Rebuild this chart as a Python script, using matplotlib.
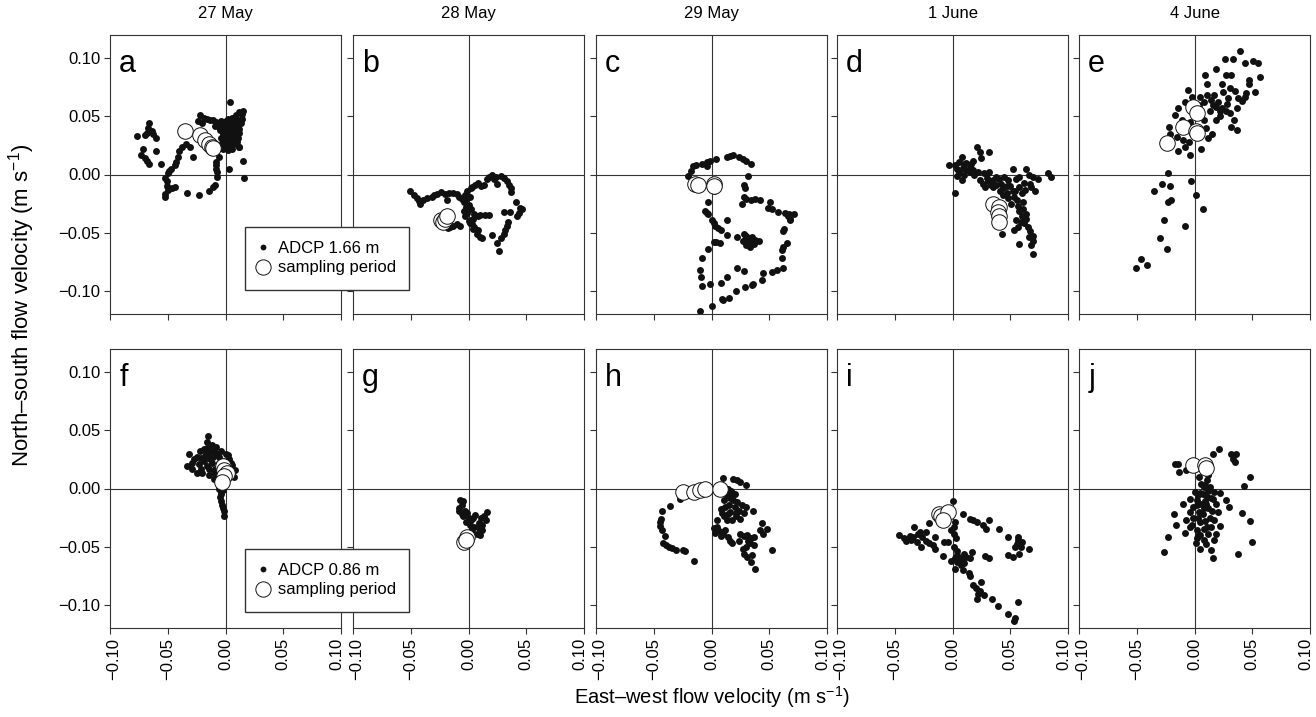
import numpy as np
import matplotlib.pyplot as plt
from matplotlib.lines import Line2D
from matplotlib.ticker import FuncFormatter
from matplotlib.transforms import ScaledTranslation

plt.rcParams['font.family'] = ['Liberation Sans', 'DejaVu Sans']
plt.rcParams['mathtext.fontset'] = 'custom'
plt.rcParams['mathtext.rm'] = 'Liberation Sans'

days = ['27 May', '28 May', '29 May', '1 June', '4 June']
letters = ['a', 'b', 'c', 'd', 'e', 'f', 'g', 'h', 'i', 'j']
depth_labels = ['ADCP 1.66 m', 'ADCP 0.86 m']

# (east-west, north-south) velocities in m/s, upper ADCP bin
adcp_a = [(0.004, 0.062), (0.015, 0.055), (0.012, 0.054), (0.014, 0.052), (0.009, 0.051), (0.006, 0.049),
          (0.002, 0.048), (0.000, 0.046), (0.004, 0.045), (0.008, 0.046), (0.011, 0.047), (0.013, 0.044),
          (0.010, 0.042), (0.006, 0.041), (0.002, 0.042), (-0.001, 0.043), (-0.003, 0.040), (0.000, 0.038),
          (0.004, 0.037), (0.008, 0.038), (0.012, 0.039), (0.010, 0.035), (0.006, 0.033), (0.002, 0.034),
          (-0.002, 0.035), (-0.004, 0.031), (0.000, 0.030), (0.004, 0.029), (0.008, 0.030), (0.011, 0.031),
          (0.009, 0.026), (0.005, 0.025), (0.001, 0.026), (-0.003, 0.027), (-0.002, 0.022), (0.002, 0.021),
          (0.006, 0.022), (0.012, 0.024),
          (0.003, 0.044), (0.007, 0.043), (0.005, 0.039), (0.009, 0.040), (0.001, 0.036), (0.007, 0.035),
          (0.003, 0.031), (0.009, 0.033), (-0.001, 0.032), (0.005, 0.027), (0.007, 0.028), (-0.001, 0.024),
          (0.004, 0.023), (0.010, 0.028), (-0.005, 0.038), (-0.006, 0.041), (-0.009, 0.042), (0.012, 0.036),
          (0.014, 0.048), (0.002, 0.039),
          (-0.022, 0.051), (-0.019, 0.049), (-0.016, 0.048), (-0.013, 0.047), (-0.011, 0.047), (-0.008, 0.045),
          (-0.006, 0.044), (-0.004, 0.046), (-0.024, 0.046), (-0.020, 0.044),
          (-0.066, 0.044), (-0.067, 0.040), (-0.064, 0.037), (-0.077, 0.033), (-0.070, 0.034), (-0.063, 0.035),
          (-0.060, 0.031), (-0.068, 0.036), (-0.071, 0.022), (-0.073, 0.017), (-0.068, 0.012), (-0.066, 0.009),
          (-0.060, 0.020), (-0.056, 0.009), (-0.070, 0.014),
          (-0.038, 0.024), (-0.034, 0.026), (-0.031, 0.024), (-0.040, 0.020), (-0.041, 0.015), (-0.028, 0.015),
          (-0.043, 0.011), (-0.044, 0.008), (-0.047, 0.005), (-0.049, 0.003), (-0.050, 0.001), (-0.052, -0.003),
          (-0.051, -0.006), (-0.051, -0.010), (-0.050, -0.013), (-0.052, -0.017), (-0.052, -0.019),
          (-0.046, -0.012), (-0.044, -0.011), (-0.033, -0.016), (-0.023, -0.018), (-0.014, -0.014),
          (-0.011, -0.011), (-0.009, -0.009), (-0.007, -0.002), (-0.007, 0.002), (-0.008, 0.005), (-0.008, 0.008),
          (-0.008, 0.011), (-0.006, 0.015),
          (0.012, 0.024), (0.015, 0.012), (0.016, -0.003), (0.003, 0.005)]
samp_a = [(-0.035, 0.037), (-0.022, 0.034), (-0.018, 0.030), (-0.014, 0.026), (-0.012, 0.024), (-0.011, 0.023)]

adcp_b = [(-0.051, -0.014), (-0.047, -0.018), (-0.045, -0.020), (-0.043, -0.023), (-0.042, -0.025), (-0.039, -0.022),
          (-0.036, -0.020), (-0.032, -0.019), (-0.030, -0.018), (-0.027, -0.017), (-0.024, -0.015), (-0.020, -0.017),
          (-0.017, -0.016), (-0.019, -0.022), (-0.013, -0.016), (-0.010, -0.017), (-0.008, -0.019), (-0.006, -0.021),
          (-0.004, -0.024), (-0.003, -0.018), (-0.001, -0.014), (0.002, -0.012), (0.003, -0.011), (0.006, -0.009),
          (0.008, -0.007), (0.011, -0.010), (0.013, -0.009), (0.016, -0.004), (0.018, -0.002), (0.020, 0.000),
          (0.022, -0.004), (0.025, -0.008), (0.024, -0.002), (0.028, -0.001), (0.031, -0.003), (0.033, -0.006),
          (0.035, -0.009), (0.037, -0.012), (0.037, -0.015), (0.041, -0.024), (0.045, -0.029), (0.046, -0.030),
          (0.044, -0.033), (0.042, -0.036), (0.036, -0.032), (0.031, -0.032), (0.034, -0.041), (0.033, -0.044),
          (0.032, -0.048), (0.031, -0.051), (0.028, -0.055), (0.025, -0.059), (0.026, -0.066), (0.020, -0.052),
          (0.012, -0.055), (0.010, -0.054), (0.008, -0.048), (0.007, -0.051), (0.005, -0.045), (0.004, -0.047),
          (0.002, -0.039), (0.001, -0.042), (0.003, -0.043), (-0.003, -0.036), (-0.001, -0.033), (-0.004, -0.031),
          (-0.002, -0.028), (0.000, -0.026), (0.005, -0.034), (0.008, -0.036), (0.010, -0.035), (0.014, -0.035),
          (0.018, -0.035), (-0.007, -0.044), (-0.010, -0.043), (-0.013, -0.044), (-0.016, -0.045), (-0.018, -0.046),
          (0.002, -0.030), (0.000, -0.040), (0.004, -0.038), (-0.002, -0.021), (0.001, -0.019)]
samp_b = [(-0.024, -0.039), (-0.022, -0.041), (-0.020, -0.038), (-0.019, -0.036)]

adcp_c = [(-0.020, -0.001), (-0.018, 0.003), (-0.016, 0.007), (-0.013, 0.008), (-0.008, 0.009), (-0.004, 0.011),
          (-0.001, 0.012), (0.004, 0.013), (0.013, 0.015), (0.016, 0.016), (0.019, 0.017), (0.024, 0.015),
          (0.027, 0.013), (0.030, 0.012), (0.034, 0.009), (0.032, -0.001), (0.028, -0.009), (0.029, -0.012),
          (0.028, -0.019), (0.026, -0.025), (0.030, -0.021), (0.034, -0.022), (0.038, -0.021), (0.042, -0.022),
          (0.051, -0.024), (0.049, -0.029), (0.052, -0.030), (0.058, -0.032), (0.064, -0.033), (0.067, -0.034),
          (0.071, -0.034), (0.068, -0.038), (0.066, -0.036), (0.068, -0.039), (0.063, -0.047), (0.062, -0.049),
          (0.065, -0.059), (0.062, -0.062), (0.061, -0.065), (0.061, -0.072), (0.062, -0.080), (0.057, -0.082),
          (0.052, -0.084), (0.045, -0.085), (0.044, -0.091), (0.035, -0.095), (0.029, -0.097), (0.021, -0.100),
          (0.015, -0.106), (0.010, -0.108), (0.009, -0.107), (0.000, -0.113), (-0.010, -0.117),
          (-0.003, -0.024), (-0.006, -0.031), (-0.004, -0.033), (-0.003, -0.034), (0.000, -0.039), (0.002, -0.042),
          (0.003, -0.044), (0.006, -0.046), (0.008, -0.048), (0.013, -0.039), (0.013, -0.052), (0.007, -0.059),
          (0.004, -0.058), (0.002, -0.058), (-0.003, -0.064), (-0.008, -0.072), (-0.010, -0.082), (-0.009, -0.088),
          (-0.008, -0.096), (-0.001, -0.094), (0.008, -0.093), (0.013, -0.088), (0.022, -0.080), (0.028, -0.083),
          (0.036, -0.094), (0.022, -0.054),
          (0.028, -0.051), (0.030, -0.053), (0.032, -0.055), (0.035, -0.054), (0.038, -0.056), (0.041, -0.057),
          (0.029, -0.056), (0.031, -0.058), (0.034, -0.059), (0.037, -0.060), (0.030, -0.061), (0.033, -0.062),
          (0.027, -0.057), (0.036, -0.058), (-0.004, 0.007), (0.002, -0.014)]
samp_c = [(-0.014, -0.008), (-0.012, -0.009), (0.002, -0.008), (0.002, -0.010)]

adcp_d = [(-0.003, 0.008), (0.002, 0.008), (0.004, -0.001), (0.008, 0.015), (0.006, 0.011), (0.010, 0.009),
          (0.021, 0.024), (0.024, 0.019), (0.032, 0.019), (0.025, 0.014), (0.012, 0.010), (0.015, 0.006),
          (0.018, 0.004), (0.022, 0.002), (0.027, 0.001), (0.032, 0.002), (0.002, -0.016), (0.008, -0.005),
          (0.006, 0.002), (0.010, 0.000), (0.015, 0.002), (0.012, 0.004), (0.024, -0.005), (0.028, -0.011),
          (0.026, -0.008), (0.031, -0.006), (0.035, -0.005), (0.038, -0.009), (0.042, -0.008), (0.052, 0.005),
          (0.045, -0.002), (0.048, -0.005), (0.055, -0.004), (0.058, -0.002), (0.064, 0.005), (0.066, 0.000),
          (0.070, -0.002), (0.074, -0.004), (0.071, -0.014), (0.068, -0.011), (0.083, 0.001), (0.085, -0.002),
          (0.067, -0.008), (0.062, -0.007), (0.058, -0.011), (0.054, -0.014), (0.047, -0.016), (0.041, -0.014),
          (0.044, -0.018), (0.053, -0.019), (0.051, -0.025), (0.056, -0.022), (0.061, -0.024), (0.058, -0.031),
          (0.064, -0.034), (0.055, -0.039), (0.060, -0.036), (0.062, -0.042), (0.065, -0.045), (0.067, -0.049),
          (0.070, -0.053), (0.070, -0.057), (0.068, -0.061), (0.070, -0.068), (0.058, -0.060), (0.053, -0.048),
          (0.057, -0.045), (0.043, -0.051), (0.035, -0.011), (0.038, -0.002), (0.040, -0.004), (0.047, -0.010),
          (0.004, 0.005), (0.009, 0.006), (0.019, 0.000), (0.030, -0.003), (0.044, -0.012), (0.050, -0.010),
          (0.052, -0.014), (0.060, -0.016), (0.063, -0.013), (0.057, -0.027), (0.061, -0.030), (0.059, -0.041),
          (0.064, -0.038), (0.066, -0.054), (0.048, -0.020), (0.033, -0.009), (0.018, 0.012), (0.016, 0.009)]
samp_d = [(0.035, -0.025), (0.040, -0.028), (0.039, -0.032), (0.040, -0.036), (0.040, -0.041)]

adcp_e = [(0.039, 0.106), (0.026, 0.099), (0.033, 0.099), (0.044, 0.096), (0.051, 0.098), (0.055, 0.096),
          (0.057, 0.084), (0.047, 0.078), (0.047, 0.081), (0.052, 0.071), (0.044, 0.067), (0.041, 0.063),
          (0.037, 0.057), (0.027, 0.086), (0.032, 0.086), (0.019, 0.091), (0.009, 0.086), (0.011, 0.078),
          (0.024, 0.078), (0.031, 0.074), (0.025, 0.071), (0.017, 0.068), (0.011, 0.068), (0.005, 0.067),
          (-0.006, 0.073), (-0.002, 0.067), (-0.014, 0.057), (-0.017, 0.051), (-0.022, 0.041), (-0.021, 0.035),
          (-0.015, 0.032), (-0.008, 0.024), (-0.014, 0.020), (-0.004, 0.017), (0.006, 0.022), (0.012, 0.031),
          (0.015, 0.035), (0.019, 0.047), (0.022, 0.055), (0.031, 0.053), (0.034, 0.047), (0.037, 0.038),
          (0.032, 0.041), (0.019, 0.058), (0.013, 0.055), (0.028, 0.061), (0.038, 0.066), (0.045, 0.070),
          (0.016, 0.060), (0.020, 0.062), (0.024, 0.057), (0.027, 0.055), (0.008, 0.062), (0.004, 0.060),
          (-0.008, 0.062), (-0.011, 0.047), (-0.004, 0.045), (0.008, 0.047), (0.010, 0.040), (-0.010, 0.030),
          (-0.005, 0.028), (0.000, 0.052), (0.014, 0.064), (0.029, 0.066), (0.035, 0.072), (0.022, 0.050),
          (-0.023, 0.001), (-0.028, -0.008), (-0.035, -0.014), (-0.021, -0.010), (-0.023, -0.024), (-0.020, -0.022),
          (-0.003, -0.006), (0.001, -0.018), (0.007, -0.030), (-0.026, -0.039), (-0.008, -0.044), (-0.030, -0.055),
          (-0.024, -0.064), (-0.046, -0.073), (-0.041, -0.078), (-0.051, -0.080)]
samp_e = [(-0.001, 0.058), (0.002, 0.053), (-0.010, 0.041), (0.001, 0.037), (0.002, 0.036), (-0.024, 0.027)]

# lower ADCP bin
adcp_f = [(-0.015, 0.045), (-0.016, 0.040), (-0.012, 0.037), (-0.008, 0.036), (-0.032, 0.030), (-0.033, 0.019),
          (-0.029, 0.022), (-0.025, 0.027), (-0.022, 0.032), (-0.019, 0.034), (-0.019, 0.024), (-0.016, 0.019),
          (-0.025, 0.013), (-0.021, 0.017), (-0.014, 0.012), (-0.011, 0.027), (-0.006, 0.022), (-0.012, 0.022),
          (-0.008, 0.030), (-0.004, 0.032), (-0.015, 0.029), (-0.021, 0.026), (-0.017, 0.031), (-0.009, 0.017),
          (-0.005, 0.015), (0.000, 0.030), (0.002, 0.029), (0.005, 0.022), (0.003, 0.025), (0.008, 0.016),
          (0.007, 0.010), (0.006, 0.020), (-0.003, 0.018), (-0.005, 0.004), (-0.002, -0.001), (-0.005, -0.007),
          (-0.004, -0.011), (-0.003, -0.014), (-0.002, -0.017), (-0.001, -0.019), (-0.001, -0.024), (-0.004, -0.003),
          (-0.010, 0.008),
          (-0.027, 0.025), (-0.023, 0.021), (-0.018, 0.028), (-0.013, 0.025), (-0.010, 0.032), (-0.006, 0.027),
          (-0.002, 0.024), (-0.014, 0.017), (-0.010, 0.013), (-0.020, 0.013), (-0.029, 0.017), (-0.007, 0.011),
          (0.001, 0.021), (-0.012, 0.032), (-0.016, 0.035), (-0.004, -0.005), (-0.006, 0.000)]
samp_f = [(-0.002, 0.019), (-0.001, 0.016), (0.001, 0.013), (-0.001, 0.011), (-0.003, 0.006)]

adcp_g = [(-0.007, -0.010), (-0.005, -0.011), (-0.006, -0.014), (-0.008, -0.017), (-0.008, -0.019), (-0.006, -0.022),
          (-0.005, -0.024), (-0.001, -0.021), (-0.003, -0.019), (0.002, -0.027), (0.000, -0.025), (0.006, -0.023),
          (0.004, -0.025), (0.009, -0.030), (0.012, -0.036), (0.010, -0.040), (0.016, -0.020), (0.015, -0.027),
          (0.013, -0.024), (0.003, -0.036), (0.007, -0.039), (0.005, -0.033), (0.009, -0.034), (0.012, -0.031),
          (0.001, -0.031), (-0.002, -0.029), (0.011, -0.025)]
samp_g = [(-0.004, -0.046), (-0.001, -0.042), (-0.002, -0.044)]

adcp_h = [(-0.027, -0.009), (-0.036, -0.015), (-0.043, -0.019), (-0.044, -0.026), (-0.045, -0.029), (-0.045, -0.032),
          (-0.043, -0.036), (-0.040, -0.041), (-0.042, -0.047), (-0.039, -0.049), (-0.037, -0.050), (-0.034, -0.051),
          (-0.031, -0.053), (-0.023, -0.054), (-0.025, -0.053), (-0.015, -0.062),
          (0.010, 0.009), (0.019, 0.008), (0.022, 0.007), (0.025, 0.006), (0.030, 0.003), (0.014, 0.000),
          (0.017, -0.002), (0.018, -0.004), (0.013, -0.006), (0.011, -0.010), (0.015, -0.014), (0.019, -0.010),
          (0.022, -0.012), (0.026, -0.014), (0.030, -0.016), (0.036, -0.019), (0.008, -0.018), (0.011, -0.024),
          (0.014, -0.022), (0.018, -0.027), (0.021, -0.024), (0.025, -0.026), (0.028, -0.021), (0.005, -0.027),
          (0.003, -0.038), (0.006, -0.036), (0.008, -0.037), (0.010, -0.039), (0.014, -0.042), (0.016, -0.045),
          (0.018, -0.047), (0.025, -0.039), (0.028, -0.041), (0.031, -0.040), (0.034, -0.043), (0.037, -0.042),
          (0.044, -0.030), (0.048, -0.035), (0.045, -0.039), (0.042, -0.036), (0.052, -0.053), (0.037, -0.049),
          (0.033, -0.047), (0.027, -0.052), (0.028, -0.056), (0.031, -0.059), (0.035, -0.057), (0.034, -0.063),
          (0.038, -0.069), (0.024, -0.045), (0.002, -0.034),
          (0.016, -0.008), (0.020, -0.016), (0.024, -0.019), (0.012, -0.016), (0.016, -0.020), (0.009, -0.021),
          (0.013, -0.027), (0.021, -0.021), (0.005, -0.033), (0.008, -0.041), (0.012, -0.036), (0.032, -0.045),
          (0.030, -0.050), (0.020, -0.005)]
samp_h = [(-0.025, -0.003), (-0.015, -0.003), (-0.010, -0.001), (-0.006, 0.000), (0.007, 0.000)]

adcp_i = [(0.000, -0.011), (0.009, -0.022), (0.015, -0.026), (0.018, -0.027), (0.021, -0.029), (0.026, -0.031),
          (0.032, -0.027), (0.029, -0.035), (0.040, -0.035), (0.048, -0.042), (0.057, -0.042), (0.057, -0.044),
          (0.060, -0.046), (0.066, -0.052), (0.054, -0.050), (0.056, -0.048), (0.048, -0.057), (0.052, -0.059),
          (0.058, -0.056), (0.028, -0.058), (0.032, -0.060),
          (-0.046, -0.040), (-0.042, -0.043), (-0.040, -0.045), (-0.037, -0.041), (-0.034, -0.042), (-0.033, -0.033),
          (-0.030, -0.039), (-0.028, -0.037), (-0.023, -0.037), (-0.027, -0.050), (-0.023, -0.045), (-0.020, -0.047),
          (-0.017, -0.049), (-0.020, -0.030), (-0.015, -0.042), (-0.015, -0.052), (-0.008, -0.058), (-0.007, -0.046),
          (0.002, -0.029), (-0.001, -0.036), (0.001, -0.033), (-0.004, -0.046), (0.001, -0.039), (0.001, -0.050),
          (0.004, -0.057), (-0.001, -0.062), (0.002, -0.060), (0.006, -0.062), (0.008, -0.060), (0.012, -0.059),
          (0.017, -0.055), (0.015, -0.060), (0.002, -0.069), (0.009, -0.070), (0.014, -0.073), (0.015, -0.075),
          (0.018, -0.083), (0.025, -0.080), (0.024, -0.088), (0.021, -0.095), (0.027, -0.092), (0.034, -0.095),
          (0.039, -0.101), (0.057, -0.098), (0.048, -0.108), (0.054, -0.111), (0.053, -0.114),
          (0.004, -0.063), (0.007, -0.066), (0.010, -0.064), (0.004, -0.054), (0.010, -0.056), (-0.036, -0.044),
          (-0.031, -0.046), (-0.026, -0.042), (0.020, -0.086), (0.022, -0.091), (0.059, -0.050), (0.003, -0.043)]
samp_i = [(-0.012, -0.022), (-0.010, -0.024), (-0.004, -0.020), (-0.008, -0.027)]

adcp_j = [(-0.017, 0.021), (-0.014, 0.021), (-0.013, 0.014), (-0.007, 0.016), (0.016, 0.030), (0.021, 0.034),
          (0.032, 0.030), (0.036, 0.030), (0.035, 0.023), (0.033, 0.025), (0.048, 0.010), (0.043, 0.002),
          (0.004, 0.010), (0.011, 0.007), (0.008, 0.001), (0.005, -0.004), (0.002, -0.010), (0.011, -0.007),
          (0.017, -0.003), (0.022, -0.004), (0.027, -0.010), (0.030, -0.016), (0.019, -0.013), (0.015, -0.019),
          (0.008, -0.017), (-0.001, -0.016), (-0.010, -0.013), (-0.018, -0.022), (-0.016, -0.031), (-0.007, -0.027),
          (-0.001, -0.025), (0.005, -0.029), (0.011, -0.033), (0.017, -0.027), (0.022, -0.032), (0.019, -0.039),
          (0.012, -0.039), (0.005, -0.040), (0.001, -0.047), (0.005, -0.052), (0.014, -0.053), (0.016, -0.060),
          (-0.023, -0.042), (-0.026, -0.055), (0.041, -0.021), (0.048, -0.028), (0.050, -0.046), (0.038, -0.056),
          (-0.004, -0.020), (0.002, -0.036), (0.006, 0.004), (0.012, -0.002), (0.009, -0.011), (0.014, -0.008),
          (0.003, -0.006), (0.000, -0.003), (0.007, -0.022), (0.013, -0.025), (-0.004, -0.033), (-0.008, -0.038),
          (0.008, -0.044), (0.003, -0.041), (0.010, -0.013), (0.004, -0.020), (0.020, -0.020),
          (0.009, 0.003), (0.013, 0.001), (0.007, -0.005), (0.016, -0.009), (0.002, -0.014), (0.006, -0.013),
          (0.012, -0.017), (0.003, -0.025), (0.009, -0.028), (-0.002, -0.031), (0.014, -0.033), (0.008, -0.035),
          (0.010, -0.048), (0.017, -0.044), (0.002, -0.043), (0.012, 0.012), (-0.004, -0.009)]
samp_j = [(-0.001, 0.020), (0.009, 0.020), (0.010, 0.018)]

adcp = [adcp_a, adcp_b, adcp_c, adcp_d, adcp_e, adcp_f, adcp_g, adcp_h, adcp_i, adcp_j]
samp = [samp_a, samp_b, samp_c, samp_d, samp_e, samp_f, samp_g, samp_h, samp_i, samp_j]

ticks = [-0.10, -0.05, 0.00, 0.05, 0.10]


def fmt(v, pos):
    s = '%.2f' % v
    if s == '-0.00':
        s = '0.00'
    return s.replace('-', '\u2212')


W, H = 1316, 717
lefts = [110, 353, 596, 837, 1079]
tops = [35, 349]
pw, ph = 231, 279

fig = plt.figure(figsize=(W / 100, H / 100), dpi=100)

for k in range(10):
    row, col = divmod(k, 5)
    ax = fig.add_axes([lefts[col] / W, (H - tops[row] - ph) / H, pw / W, ph / H])
    ax.axhline(0, color='#333333', lw=0.8, zorder=1)
    ax.axvline(0, color='#333333', lw=0.8, zorder=1)
    pts = np.array(adcp[k])
    ax.scatter(pts[:, 0], pts[:, 1], s=25, color='#111111', lw=0, zorder=2)
    sp = np.array(samp[k])
    ax.scatter(sp[:, 0], sp[:, 1], s=125, facecolor='white', edgecolor='#111111', lw=0.7, zorder=3)
    ax.set_xlim(-0.1, 0.1)
    ax.set_ylim(-0.12, 0.12)
    ax.set_xticks(ticks)
    ax.set_yticks(ticks)
    ax.xaxis.set_major_formatter(FuncFormatter(fmt))
    ax.yaxis.set_major_formatter(FuncFormatter(fmt))
    ax.tick_params(direction='out', length=4, width=0.8, color='#333333', labelsize=12, pad=3)
    for s in ax.spines.values():
        s.set_linewidth(0.8)
        s.set_color('#333333')
    if col > 0:
        ax.tick_params(axis='y', labelleft=False)
    if row == 0:
        ax.tick_params(axis='x', labelbottom=False)
        ax.set_title(days[col], fontsize=12, pad=12)
    else:
        ax.tick_params(axis='x', labelrotation=90)
        # nudge the end labels inward so neighbouring panels don't collide
        xt = ax.xaxis.get_major_ticks()
        xt[0].label1.set_transform(xt[0].label1.get_transform()
                                   + ScaledTranslation(3 / 72, 0, fig.dpi_scale_trans))
        xt[-1].label1.set_transform(xt[-1].label1.get_transform()
                                    + ScaledTranslation(-3 / 72, 0, fig.dpi_scale_trans))
    ax.text(0.04, 0.867, letters[k], transform=ax.transAxes, fontsize=22, va='baseline', ha='left')

# legends sit across the first two panels of each row
for row in range(2):
    handles = [Line2D([], [], ls='none', marker='o', ms=4.2, color='#111111', mec='none'),
               Line2D([], [], ls='none', marker='o', ms=11, mfc='white', mec='#111111', mew=0.7)]
    y_top = (H - (227 if row == 0 else 549)) / H
    fig.legend(handles, [depth_labels[row], 'sampling period'], loc='upper left',
               bbox_to_anchor=(245 / W, y_top - 0.2, 164 / W, 0.2), mode='expand',
               fontsize=12, frameon=True, fancybox=False, edgecolor='#333333',
               framealpha=1, borderpad=0.85, labelspacing=0.25, handlelength=0.4,
               handletextpad=0.7, borderaxespad=0)

fig.text(712 / W, 1 - 697 / H, 'East\u2013west flow velocity (m s$^{\\mathregular{-1}}$)',
         ha='center', va='center', fontsize=14.5)
fig.text(22 / W, 1 - 305 / H, 'North\u2013south flow velocity (m s$^{\\mathregular{-1}}$)',
         ha='center', va='center', rotation=90, fontsize=16)

fig.savefig('out.png', dpi=100)
